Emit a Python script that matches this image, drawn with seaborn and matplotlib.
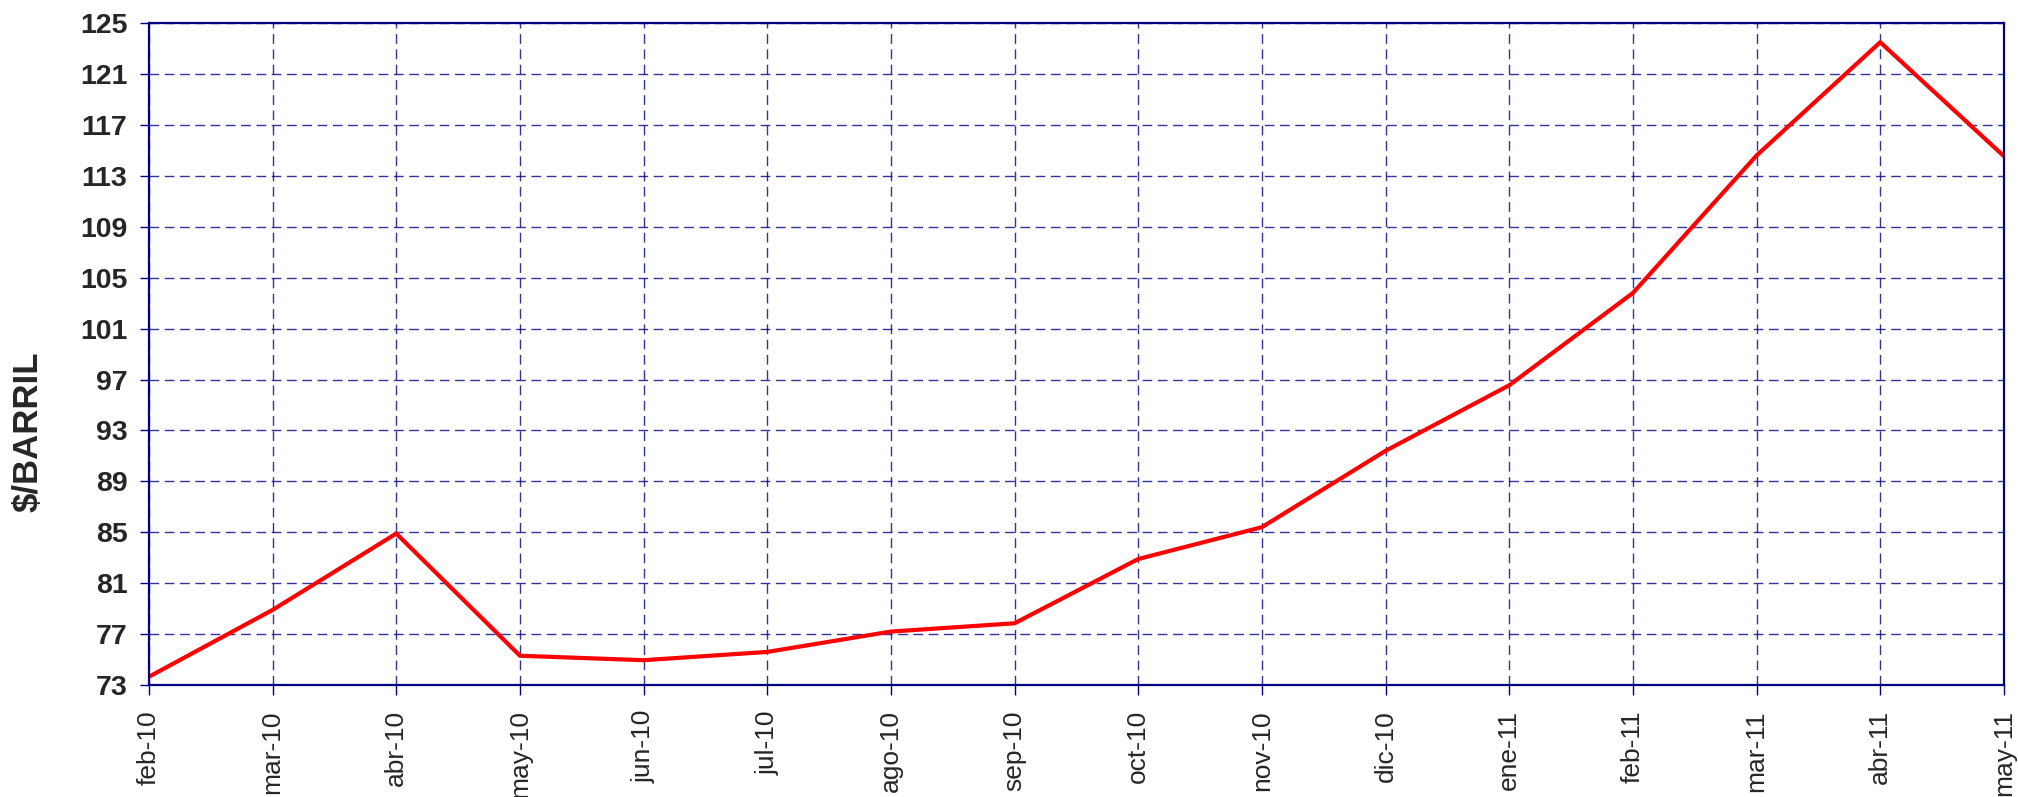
import matplotlib
matplotlib.use("Agg")
import matplotlib.pyplot as plt
import seaborn as sns
import pandas as pd
import numpy as np

months = ["feb-10", "mar-10", "abr-10", "may-10", "jun-10", "jul-10", "ago-10", "sep-10",
          "oct-10", "nov-10", "dic-10", "ene-11", "feb-11", "mar-11", "abr-11", "may-11"]
prices = [73.65, 78.9, 84.9, 75.3, 74.95, 75.6, 77.2, 77.85,
          82.9, 85.4, 91.4, 96.55, 103.8, 114.6, 123.5, 114.55]
yticks = [73, 77, 81, 85, 89, 93, 97, 101, 105, 109, 113, 117, 121, 125]
ylabel = "$/BARRIL"

sns.set_style("white")
plt.rcParams['font.family'] = ['Liberation Sans', 'DejaVu Sans']

navy = "#000080"
df = pd.DataFrame({"pos": np.arange(len(months)), "price": prices})

fig = plt.figure(figsize=(20.18, 7.97), dpi=100)
ax = fig.add_axes([0.0738, 0.1405, 0.9192, 0.8305])
sns.lineplot(data=df, x="pos", y="price", ax=ax, color="#ff0000", linewidth=3, sort=False)

ax.set_xlim(0, len(months) - 1)
ax.set_ylim(yticks[0], yticks[-1])
ax.set_xticks(np.arange(len(months)))
ax.set_xticklabels(months, rotation=90, fontsize=19)
ax.set_yticks(yticks)
ax.set_yticklabels([str(t) for t in yticks], fontsize=20.5, fontweight="bold")
ax.set_xlabel("")
ax.set_ylabel(ylabel, fontsize=25, fontweight="bold")
ax.yaxis.set_label_coords(-0.0565, 0.382)

ax.grid(True, color=navy, linestyle=(0, (7, 4)), linewidth=1, alpha=0.8)
ax.set_axisbelow(True)
for s in ax.spines.values():
    s.set_color(navy)
    s.set_linewidth(1.6)
    s.set_visible(True)
ax.tick_params(axis="y", which="major", direction="out", length=6.5, width=1,
               color=navy, pad=9, left=True)
ax.tick_params(axis="x", which="major", direction="out", length=7, width=1,
               color=navy, pad=11, bottom=True)

fig.savefig("out.png", dpi=100)
